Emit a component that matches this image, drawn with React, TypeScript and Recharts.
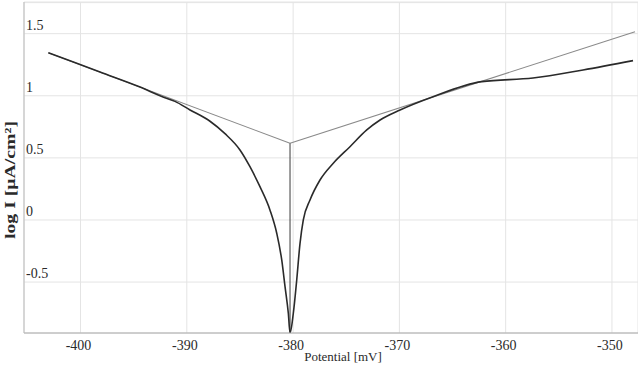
import React from 'react';
import { ComposedChart, Line, XAxis, YAxis, CartesianGrid, ReferenceLine, Label } from 'recharts';

const xTicks = [-400, -390, -380, -370, -360, -350];
const yTicks = [-0.5, 0, 0.5, 1, 1.5];

// measured polarization curve (potential mV, log I)
const curveX = [-403.03, -398.17, -394.4, -392.24, -391.11, -389.7, -387.82, -386.41, -385.0, -384.06, -383.12, -382.18, -381.54, -381.07, -380.76, -380.45, -380.29,
  -379.98, -379.66, -379.35, -379.04, -378.41, -377.47, -376.22, -374.65, -373.07, -371.82, -369.94, -366.84, -362.25, -357.43, -352.72, -348.02];
const curveY = [1.347, 1.191, 1.07, 0.99, 0.955, 0.886, 0.795, 0.695, 0.564, 0.429, 0.268, 0.081, -0.107, -0.322, -0.537, -0.751, -0.91,
  -0.751, -0.483, -0.188, 0.0, 0.161, 0.322, 0.457, 0.59, 0.725, 0.805, 0.886, 0.993, 1.114, 1.143, 1.208, 1.283];

// Tafel extrapolation lines
const anodicX = [-380.29, -347.83];
const anodicY = [0.618, 1.516];
const cathodicX = [-403.03, -380.29];
const cathodicY = [1.347, 0.618];
const ecorrX = [-380.29, -380.29];
const ecorrY = [0.618, -0.91];

const zip = (xs: number[], ys: number[]) => xs.map((x, i) => ({ x, y: ys[i] }));
const curve = zip(curveX, curveY);
const anodic = zip(anodicX, anodicY);
const cathodic = zip(cathodicX, cathodicY);
const ecorr = zip(ecorrX, ecorrY);

const FONT = '"Liberation Serif", "Times New Roman", serif';

const YTick = (props: any) => {
  const { y, payload } = props;
  return (
    <text x={26} y={y - 4} textAnchor="start" fontFamily={FONT} fontSize={14} fill="#2a2a2a">
      {String(payload.value)}
    </text>
  );
};

const XTick = (props: any) => {
  const { x, payload } = props;
  return (
    <text x={x - 2} y={350} textAnchor="middle" fontFamily={FONT} fontSize={14} fill="#2a2a2a">
      {String(payload.value)}
    </text>
  );
};

export default function App() {
  return (
    <div style={{ position: 'absolute', left: 0, top: 0, width: 638, height: 367, background: '#fff' }}>
      <ComposedChart width={638} height={367} margin={{ top: 2, right: 0, bottom: 0, left: 0 }}>
        <CartesianGrid stroke="#e4e4e4" strokeWidth={1} />
        <XAxis
          type="number"
          dataKey="x"
          domain={[-405.32, -347.55]}
          ticks={xTicks}
          allowDataOverflow
          height={34}
          tickLine={false}
          axisLine={{ stroke: '#aaaaaa', strokeWidth: 1.2 }}
          tick={<XTick />}
          interval={0}
        >
          <Label
            content={() => (
              <text x={343} y={361} textAnchor="middle" fontFamily={FONT} fontSize={13} fill="#2a2a2a">
                Potential [mV]
              </text>
            )}
          />
        </XAxis>
        <YAxis
          type="number"
          dataKey="y"
          domain={[-0.91, 1.755]}
          ticks={yTicks}
          allowDataOverflow
          width={24}
          tickLine={false}
          axisLine={{ stroke: '#bbbbbb', strokeWidth: 1 }}
          tick={<YTick />}
          interval={0}
        >
          <Label
            content={() => (
              <text
                x={0}
                y={0}
                transform="translate(15,180) rotate(-90)"
                textAnchor="middle"
                fontFamily={FONT}
                fontSize={15}
                fontWeight="bold"
                fill="#2a2a2a"
                textLength={118}
                lengthAdjust="spacingAndGlyphs"
              >
                log I [μA/cm²]
              </text>
            )}
          />
        </YAxis>
        <ReferenceLine y={1.75} stroke="#e4e4e4" />
        <Line data={cathodic} dataKey="y" type="linear" stroke="#8a8a8a" strokeWidth={1.1} dot={false} isAnimationActive={false} />
        <Line data={anodic} dataKey="y" type="linear" stroke="#8a8a8a" strokeWidth={1.1} dot={false} isAnimationActive={false} />
        <Line data={ecorr} dataKey="y" type="linear" stroke="#5a5a5a" strokeWidth={1.2} dot={false} isAnimationActive={false} />
        <Line data={curve} dataKey="y" type="monotone" stroke="#2a2a2a" strokeWidth={1.6} dot={false} isAnimationActive={false} />
      </ComposedChart>
    </div>
  );
}
